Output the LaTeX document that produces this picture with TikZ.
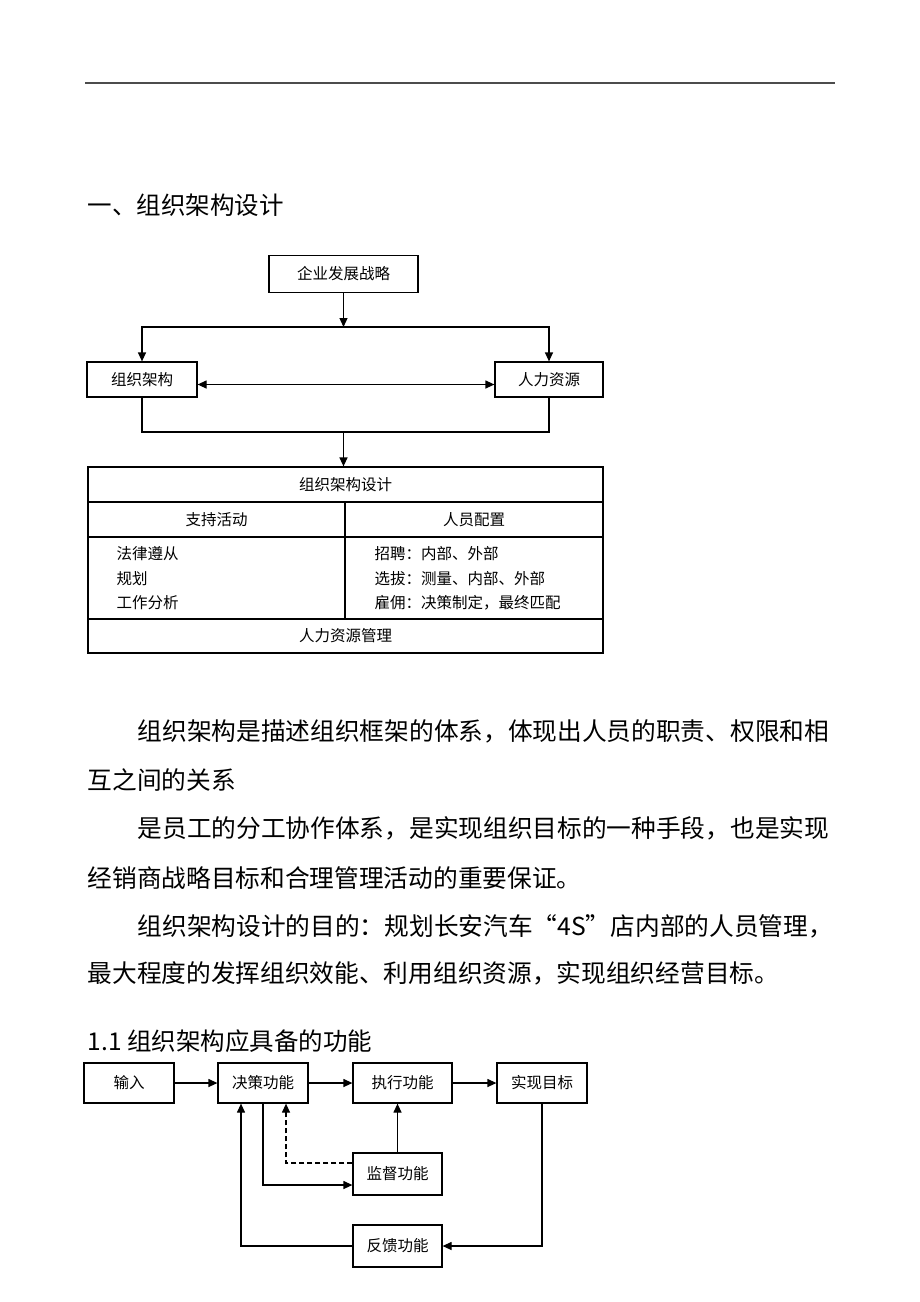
\documentclass[tikz,border=0pt]{standalone}
\usepackage{fontspec}
\setmainfont{Noto Sans CJK SC}
\usepackage{tikz}
\usetikzlibrary{arrows.meta}

\begin{document}
\begin{tikzpicture}[x=1pt,y=-1pt,line width=1.2pt,>={Triangle[length=9pt,width=8pt]}]
    \tikzstyle{box}=[draw,rectangle,inner sep=0pt,font=\fontsize{15.5}{18}\selectfont]
    \tikzstyle{item}=[inner sep=0pt,anchor=west,font=\fontsize{15.5}{18}\selectfont]
    \tikzstyle{head}=[inner sep=0pt,anchor=west,font=\fontsize{24.5}{28}\selectfont]
    \tikzstyle{para}=[inner sep=0pt,anchor=west,font=\fontsize{24.7}{28}\selectfont]

    \useasboundingbox (0,0) rectangle (920,1302);

    % Page rule and first heading
    \draw[line width=1.6pt,black!70] (85,83) -- (835,83);
    \node[head] (h1) at (87,205) {一、组织架构设计};

    % Strategy, structure and human resources
    \node[box, minimum width=149pt, minimum height=37pt] (S) at (343.5,274) {企业发展战略};
    \node[box, minimum width=110pt, minimum height=35pt] (A) at (142,379.5) {组织架构};
    \node[box, minimum width=108pt, minimum height=35pt] (R) at (549,379.5) {人力资源};
    \coordinate (split) at (343.5,327);
    \coordinate (merge) at (343.5,432);

    \draw[->] (S.south) -- (split);
    \draw[->] (split) -| (A.north);
    \draw[->] (split) -| (R.north);
    \draw[<->] ([yshift=-5pt]A.east) -- ([yshift=-5pt]R.west);
    \draw (A.south) |- (merge) -| (R.south);

    % Draw the table cells
    \node[box, minimum width=515pt, minimum height=35pt] (T-0) at (345.5,484.5) {组织架构设计};
    \node[box, minimum width=257pt, minimum height=35pt] (T-1) at (216.5,519.5) {支持活动};
    \node[box, minimum width=258pt, minimum height=35pt] (T-2) at (474,519.5) {人员配置};
    \node[box, minimum width=257pt, minimum height=82pt] (T-3) at (216.5,578) {};
    \node[box, minimum width=258pt, minimum height=82pt] (T-4) at (474,578) {};
    \node[box, minimum width=515pt, minimum height=34pt] (T-5) at (345.5,636) {人力资源管理};
    \draw[->] (merge) -- (merge |- T-0.north);

    % List entries of both columns
    \foreach \txt / \i in {法律遵从/0,规划/1,工作分析/2}
        \node[item] (L-\i) at (116,{554+24.5*\i}) {\txt};
    \foreach \txt / \i in {招聘：内部、外部/0,选拔：测量、内部、外部/1,雇佣：决策制定，最终匹配/2}
        \node[item] (P-\i) at (374,{554+24.5*\i}) {\txt};

    % Body text
    \node[para] (B-1) at (137,731) {组织架构是描述组织框架的体系，体现出人员的职责、权限和相};
    \node[para] (B-2) at (87,780) {互之间的关系};
    \node[para] (B-3) at (137,828) {是员工的分工协作体系，是实现组织目标的一种手段，也是实现};
    \node[para] (B-4) at (87,878) {经销商战略目标和合理管理活动的重要保证。};
    \node[para] (B-5) at (137,926) {组织架构设计的目的：规划长安汽车“4S”店内部的人员管理，};
    \node[para] (B-6) at (87,973) {最大程度的发挥组织效能、利用组织资源，实现组织经营目标。};

    % Second heading and the function chart
    \node[head] (h2) at (87,1041) {1.1 组织架构应具备的功能};

    \node[box, minimum width=90pt, minimum height=40pt] (F-1) at (129,1083) {输入};
    \node[box, minimum width=90pt, minimum height=40pt] (F-2) at (263,1083) {决策功能};
    \node[box, minimum width=99pt, minimum height=40pt] (F-3) at (402.5,1083) {执行功能};
    \node[box, minimum width=90pt, minimum height=40pt] (F-4) at (542,1083) {实现目标};
    \node[box, minimum width=89pt, minimum height=42pt] (M) at (397.5,1174) {监督功能};
    \node[box, minimum width=89pt, minimum height=42pt] (FB) at (397.5,1246) {反馈功能};

    \foreach \source / \dest in {1/2,2/3,3/4}
        \draw[->] (F-\source) -- (F-\dest);
    \draw[->] (F-4.south) |- (FB.east);
    \draw[->] (FB.west) -| ([xshift=-22pt]F-2.south);
    \draw[->] (F-2.south) |- ([yshift=-11pt]M.west);
    \draw[->,dash pattern=on 5pt off 3pt] ([yshift=11pt]M.west) -| ([xshift=23pt]F-2.south);
    \draw[->] (M.north) -- (M.north |- F-3.south);
\end{tikzpicture}
\end{document}
